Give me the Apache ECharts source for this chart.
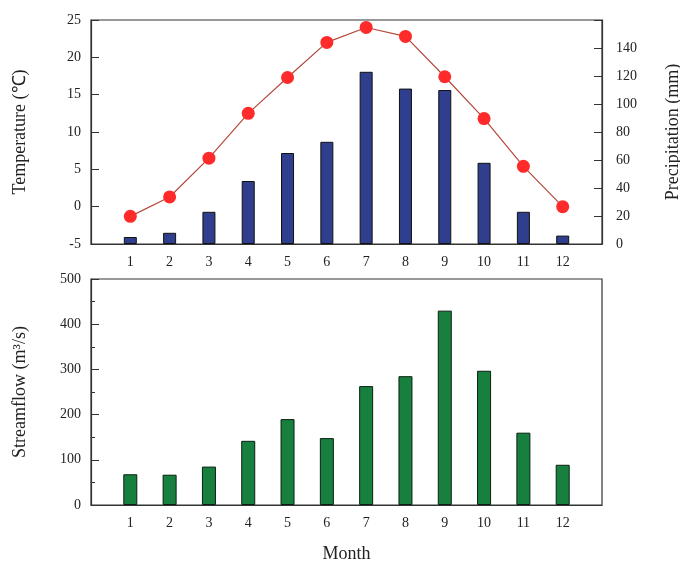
<!DOCTYPE html>
<html>
<head>
<meta charset="utf-8">
<script src="https://cdn.jsdelivr.net/npm/echarts@6/dist/echarts.min.js"></script>
<style>
  html, body { margin: 0; padding: 0; background: #fff; }
  #chart { width: 680px; height: 562px; }
</style>
</head>
<body>
<div id="chart"></div>
<script>
// Monthly climate and runoff
const months = [1, 2, 3, 4, 5, 6, 7, 8, 9, 10, 11, 12];
const temperature = [-1.3, 1.3, 6.5, 12.5, 17.3, 22.0, 24.0, 22.8, 17.4, 11.8, 5.4, 0.0];   // °C
const precipitation = [5, 8, 23, 45, 65, 73, 123, 111, 110, 58, 23, 6];                   // mm
const streamflow = [68, 67, 85, 142, 190, 148, 263, 285, 430, 297, 160, 89];              // m3/s

const pairs = vals => months.map((m, i) => [m, vals[i]]);

const FONT = "'Liberation Serif', 'Times New Roman', serif";
const INK = '#333';
const labelStyle = { fontFamily: FONT, fontSize: 14, color: '#222' };
const nameStyle = { fontFamily: FONT, fontSize: 18, color: '#222' };

function monthAxis(gridIndex, extra) {
  return Object.assign({
    type: 'value', gridIndex: gridIndex, min: 0, max: 13, interval: 1,
    axisLine: { onZero: false, lineStyle: { color: INK, width: 1.2 } },
    axisTick: { show: false },
    splitLine: { show: false },
    axisLabel: Object.assign({}, labelStyle, {
      margin: 11,
      formatter: v => (v >= 1 && v <= 12 ? String(v) : '')
    })
  }, extra || {});
}

const chart = echarts.init(document.getElementById('chart'));
chart.setOption({
  backgroundColor: '#fff',
  animation: false,
  grid: [
    { left: 91, right: 78, top: 20, height: 224, outerBoundsMode: 'none', containLabel: false,
      show: true, borderColor: INK, borderWidth: 1.2 },
    { left: 91, right: 78, top: 279, height: 226, outerBoundsMode: 'none', containLabel: false,
      show: true, borderColor: INK, borderWidth: 1.2 }
  ],
  xAxis: [
    monthAxis(0),
    monthAxis(1, {
      name: 'Month', nameLocation: 'middle', nameGap: 40, nameTextStyle: nameStyle
    })
  ],
  yAxis: [
    {
      type: 'value', gridIndex: 0, min: -5, max: 25, interval: 5,
      name: 'Temperature (℃)', nameLocation: 'middle', nameGap: 62, nameRotate: 90,
      nameTextStyle: nameStyle,
      axisLine: { show: true, onZero: false, lineStyle: { color: INK, width: 1.2 } },
      axisTick: { show: true, inside: true, length: 8, lineStyle: { color: INK } },
      splitLine: { show: false },
      axisLabel: Object.assign({}, labelStyle, { margin: 10 })
    },
    {
      type: 'value', gridIndex: 0, position: 'right', min: 0, max: 160, interval: 20,
      name: 'Precipitation (mm)', nameLocation: 'middle', nameGap: 62, nameRotate: 90,
      nameTextStyle: nameStyle,
      axisLine: { show: true, onZero: false, lineStyle: { color: INK, width: 1.2 } },
      axisTick: { show: true, inside: true, length: 8, lineStyle: { color: INK } },
      splitLine: { show: false },
      axisLabel: Object.assign({}, labelStyle, {
        margin: 14, formatter: v => (v >= 160 ? '' : String(v))
      })
    },
    {
      type: 'value', gridIndex: 1, min: 0, max: 500, interval: 100,
      name: 'Streamflow (m³/s)', nameLocation: 'middle', nameGap: 62, nameRotate: 90,
      nameTextStyle: nameStyle,
      axisLine: { show: true, onZero: false, lineStyle: { color: INK, width: 1.2 } },
      axisTick: { show: true, inside: true, length: 8, lineStyle: { color: INK } },
      minorTick: { show: true, splitNumber: 2, length: 4, lineStyle: { color: INK } },
      splitLine: { show: false },
      minorSplitLine: { show: false },
      axisLabel: Object.assign({}, labelStyle, { margin: 10 })
    }
  ],
  series: [
    {
      name: 'Precipitation', type: 'bar', xAxisIndex: 0, yAxisIndex: 1,
      data: pairs(precipitation), barWidth: 13,
      itemStyle: { color: '#2f3e8d', borderColor: '#111', borderWidth: 1 },
      z: 2
    },
    {
      name: 'Temperature', type: 'line', xAxisIndex: 0, yAxisIndex: 0,
      data: pairs(temperature),
      symbol: 'circle', symbolSize: 13,
      lineStyle: { color: '#b5483c', width: 1.2 },
      itemStyle: { color: '#ff2a2a', borderColor: '#f03030', borderWidth: 0 },
      z: 3
    },
    {
      name: 'Streamflow', type: 'bar', xAxisIndex: 1, yAxisIndex: 2,
      data: pairs(streamflow), barWidth: 14,
      itemStyle: { color: '#17803f', borderColor: '#0b1f10', borderWidth: 1 }
    }
  ]
});
</script>
</body>
</html>
